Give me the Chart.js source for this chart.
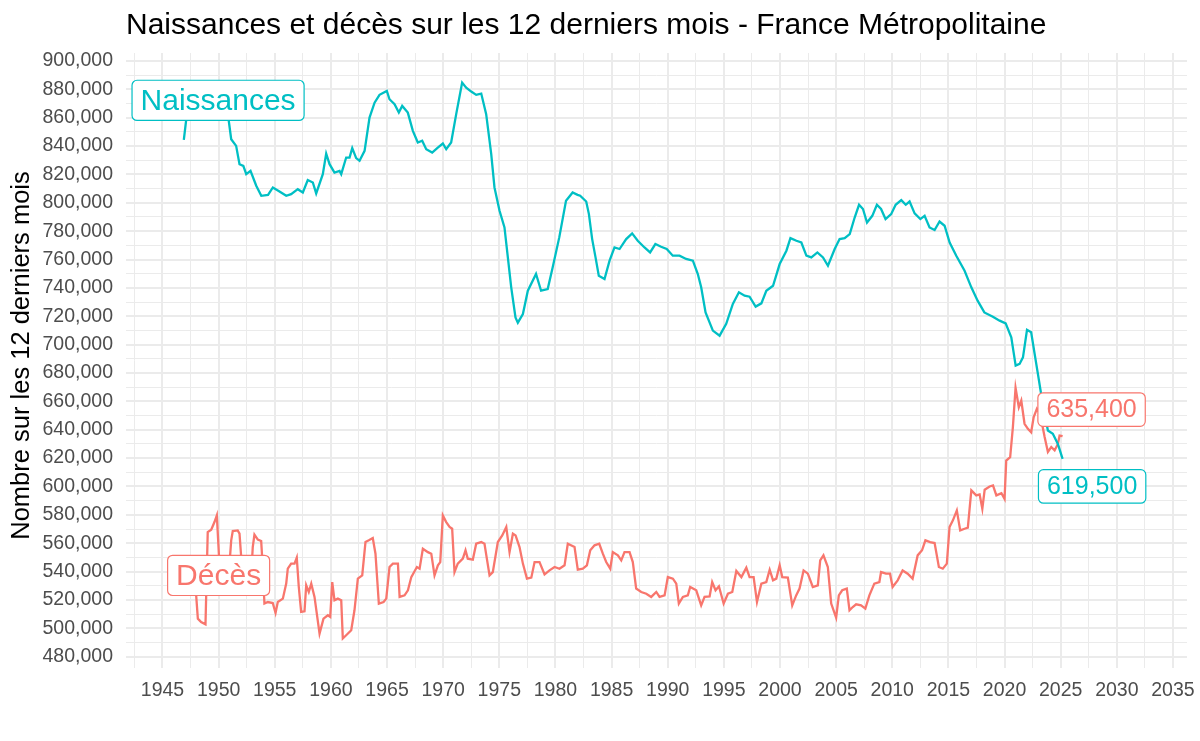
<!DOCTYPE html>
<html>
<head>
<meta charset="utf-8">
<script src="https://cdn.jsdelivr.net/npm/chart.js@4.4.1/dist/chart.umd.min.js"></script>
<style>
  html, body { margin: 0; padding: 0; background: #ffffff; }
  #wrap { width: 1200px; height: 741px; position: relative; }
</style>
</head>
<body>
<div id="wrap"><canvas id="c" width="1200" height="741"></canvas></div>
<script>
// ---------------- DATA ----------------
const chartTitle = "Naissances et décès sur les 12 derniers mois - France Métropolitaine";
const yAxisTitle = "Nombre sur les 12 derniers mois";
const seriesNames = ["Naissances", "Décès"];

const birthYears = [
  1946.9, 1947.1, 1947.5, 1948.0, 1948.5, 1949.0, 1949.5, 1950.0, 1950.5, 1950.9,
  1951.12, 1951.56, 1951.86, 1952.2, 1952.46, 1952.84, 1953.35, 1953.8, 1954.4, 1954.83,
  1955.42, 1956.02, 1956.46, 1957.05, 1957.5, 1957.94, 1958.39, 1958.69, 1959.28, 1959.58,
  1959.88, 1960.32, 1960.77, 1960.92, 1961.36, 1961.66, 1961.9, 1962.25, 1962.55, 1963.0,
  1963.44, 1963.89, 1964.33, 1964.98, 1965.22, 1965.67, 1966.05, 1966.35, 1966.85, 1967.3,
  1967.74, 1968.13, 1968.49, 1969.02, 1969.52, 1969.97, 1970.27, 1970.71, 1971.16, 1971.69,
  1972.05, 1972.5, 1972.94, 1973.39, 1973.83, 1974.28, 1974.57, 1975.02, 1975.46, 1975.76,
  1976.06, 1976.44, 1976.65, 1977.1, 1977.54, 1978.27, 1978.72, 1979.31, 1979.75, 1980.34,
  1980.94, 1981.53, 1981.97, 1982.2, 1982.74, 1982.98, 1983.27, 1983.57, 1983.86, 1984.37,
  1984.82, 1985.26, 1985.71, 1986.3, 1986.83, 1987.33, 1987.93, 1988.43, 1988.9, 1989.41,
  1989.91, 1990.45, 1991.05, 1991.64, 1992.24, 1992.68, 1992.98, 1993.37, 1994.02, 1994.62,
  1995.21, 1995.8, 1996.34, 1996.85, 1997.29, 1997.83, 1998.34, 1998.78, 1999.38, 1999.97,
  2000.57, 2000.93, 2001.46, 2001.9, 2002.35, 2002.79, 2003.33, 2003.83, 2004.27, 2004.87,
  2005.31, 2005.76, 2006.21, 2006.65, 2007.04, 2007.39, 2007.75, 2008.22, 2008.63, 2009.0,
  2009.4, 2009.9, 2010.3, 2010.8, 2011.2, 2011.54, 2011.99, 2012.5, 2012.88, 2013.32,
  2013.77, 2014.21, 2014.66, 2015.11, 2015.7, 2016.44, 2017.04, 2017.6, 2018.2, 2018.96,
  2019.56, 2020.1, 2020.6, 2020.99, 2021.34, 2021.64, 2022.0, 2022.37, 2022.68, 2022.97,
  2023.35, 2023.86, 2024.3, 2024.75, 2025.17
];
const birthValues = [
  844400, 857700, 863000, 867000, 869000, 868000, 866000, 864000, 861000, 858000,
  844800, 840100, 827200, 826000, 820200, 822500, 812000, 804900, 805600, 810800,
  808000, 804900, 806100, 809600, 807300, 816000, 814300, 806600, 820200, 834700,
  827200, 821300, 822500, 820200, 831900, 831900, 838500, 831500, 829600, 836600,
  860100, 870600, 876100, 878900, 873000, 869500, 863600, 868300, 863600, 850700,
  842500, 843700, 837800, 835400, 838900, 841800, 837800, 842500, 862500, 884700,
  881200, 878400, 876100, 877000, 862500, 834300, 810800, 794400, 782600, 761500,
  740400, 719200, 715500, 721600, 738000, 749800, 738000, 739200, 754400, 775600,
  801400, 807300, 805600, 805000, 800900, 792000, 774400, 761500, 748600, 746300,
  759200, 768500, 767400, 774400, 778400, 773200, 768500, 765000, 770900, 769000,
  767400, 762700, 762700, 760400, 759200, 749800, 740400, 722700, 709900, 706300,
  714600, 728700, 736900, 734500, 733800, 726800, 729100, 738000, 741500, 756800,
  766200, 775100, 773200, 772000, 762700, 761500, 765000, 761500, 755600, 767400,
  774400, 775100, 777900, 789600, 798600, 795600, 786100, 790800, 798600, 795600,
  788500, 792000, 798600, 801900, 798600, 800900, 792500, 788500, 790800, 782600,
  780800, 786800, 783800, 772000, 762700, 752100, 740400, 731000, 722700, 719700,
  716900, 715000, 705100, 685200, 686400, 691000, 710400, 708700, 693500, 679400,
  660600, 639400, 637100, 630000, 619500
];

const deathYears = [
  1946.9, 1947.5, 1947.9, 1948.0, 1948.15, 1948.44, 1948.83, 1949.03, 1949.34, 1949.63,
  1949.84, 1949.99, 1950.1, 1950.9, 1951.12, 1951.26, 1951.7, 1951.86, 1952.0, 1952.3,
  1952.9, 1953.04, 1953.19, 1953.49, 1953.79, 1953.93, 1954.08, 1954.38, 1954.82, 1955.07,
  1955.27, 1955.72, 1956.02, 1956.16, 1956.46, 1956.76, 1956.96, 1957.14, 1957.35, 1957.65,
  1957.8, 1958.03, 1958.25, 1958.54, 1958.99, 1959.34, 1959.73, 1959.94, 1960.12, 1960.32,
  1960.62, 1960.92, 1961.06, 1961.36, 1961.81, 1962.1, 1962.4, 1962.79, 1963.08, 1963.38,
  1963.73, 1963.97, 1964.27, 1964.69, 1964.93, 1965.22, 1965.52, 1965.97, 1966.12, 1966.56,
  1966.86, 1967.16, 1967.66, 1967.9, 1968.19, 1968.64, 1968.94, 1969.23, 1969.53, 1969.74,
  1969.97, 1970.27, 1970.57, 1970.8, 1971.01, 1971.3, 1971.75, 1971.99, 1972.19, 1972.64,
  1972.94, 1973.39, 1973.68, 1973.89, 1974.13, 1974.42, 1974.87, 1975.26, 1975.62, 1975.91,
  1976.21, 1976.45, 1976.8, 1977.1, 1977.46, 1977.85, 1978.14, 1978.58, 1979.03, 1979.47,
  1979.92, 1980.36, 1980.81, 1981.1, 1981.7, 1981.99, 1982.44, 1982.8, 1983.1, 1983.48,
  1983.9, 1984.22, 1984.52, 1984.88, 1985.11, 1985.56, 1985.86, 1986.15, 1986.6, 1986.89,
  1987.19, 1987.64, 1988.09, 1988.53, 1988.98, 1989.27, 1989.72, 1990.01, 1990.46, 1990.76,
  1990.99, 1991.35, 1991.79, 1992.0, 1992.54, 1992.98, 1993.28, 1993.73, 1993.96, 1994.26,
  1994.56, 1994.98, 1995.36, 1995.75, 1996.11, 1996.56, 1997.0, 1997.29, 1997.65, 1997.95,
  1998.34, 1998.78, 1999.08, 1999.38, 1999.67, 1999.97, 2000.2, 2000.7, 2001.09, 2001.44,
  2001.74, 2002.1, 2002.48, 2002.92, 2003.37, 2003.58, 2003.87, 2004.26, 2004.56, 2005.0,
  2005.24, 2005.54, 2005.95, 2006.19, 2006.48, 2006.78, 2007.22, 2007.6, 2007.96, 2008.4,
  2008.85, 2009.0, 2009.44, 2009.8, 2010.03, 2010.48, 2010.92, 2011.37, 2011.81, 2012.26,
  2012.65, 2012.95, 2013.37, 2013.77, 2014.15, 2014.5, 2014.86, 2015.1, 2015.4, 2015.75,
  2016.05, 2016.44, 2016.73, 2017.04, 2017.48, 2017.78, 2018.02, 2018.23, 2018.67, 2018.97,
  2019.27, 2019.72, 2020.0, 2020.15, 2020.5, 2020.74, 2020.98, 2021.27, 2021.49, 2021.78,
  2022.08, 2022.37, 2022.59, 2022.88, 2023.1, 2023.4, 2023.57, 2023.86, 2024.16, 2024.46,
  2024.75, 2024.9, 2025.17
];
const deathValues = [
  540000, 541000, 530000, 523200, 506800, 504400, 502800, 567800, 569500, 574900,
  579600, 557300, 540000, 538000, 562000, 568500, 569000, 566700, 551400, 536000,
  537000, 557300, 566000, 562500, 561500, 543200, 517400, 518500, 517800, 510800,
  518500, 520900, 531500, 542000, 545600, 545600, 549800, 529100, 511500, 512000,
  530300, 525600, 531500, 522100, 496300, 506800, 509200, 508000, 532600, 519700,
  520900, 519700, 492800, 495100, 498600, 512700, 535000, 537300, 560800, 562000,
  563600, 552600, 517400, 518500, 520900, 543200, 545600, 545600, 522100, 523200,
  526800, 536100, 543200, 542000, 556100, 553700, 552600, 537300, 544400, 546700,
  579600, 574900, 571400, 570200, 539600, 545600, 549100, 555000, 549100, 548400,
  559600, 560800, 559600, 549100, 537300, 539600, 560800, 565500, 571400, 553700,
  566700, 565500, 557300, 545600, 535000, 535700, 546700, 546700, 538000, 540800,
  543200, 542000, 544400, 559600, 557300, 541300, 542000, 544400, 555000, 558500,
  559600, 552600, 546700, 542000, 553700, 551400, 547900, 553700, 553700, 546700,
  528000, 525600, 524400, 522100, 525600, 522100, 523200, 536100, 535000, 531500,
  517400, 522100, 523200, 529100, 526800, 516200, 522100, 522500, 532600, 526800,
  529600, 517400, 524400, 525600, 540400, 536100, 542700, 536100, 536100, 518500,
  531500, 532600, 541300, 533800, 535000, 544400, 536100, 535700, 516200, 523200,
  528000, 540800, 538500, 529100, 530300, 547900, 551400, 543200, 517400, 507500,
  523200, 526800, 528000, 512700, 515000, 516900, 516200, 513900, 523200, 531500,
  532600, 539600, 538500, 538500, 529100, 533800, 540800, 538500, 535000, 551400,
  555000, 562000, 560800, 560100, 543200, 542000, 545600, 571400, 576100, 583100,
  569000, 570200, 570900, 597200, 593700, 594400, 584300, 597700, 600000, 600700,
  593700, 595300, 591300, 618300, 620600, 641700, 669500, 655800, 660600, 644200,
  640600, 638200, 648800, 654700, 652000, 641700, 634800, 624300, 627800, 625400,
  630000, 635900, 635400
];

// tick labels
const xTickLabels = [1945, 1950, 1955, 1960, 1965, 1970, 1975, 1980, 1985, 1990,
                     1995, 2000, 2005, 2010, 2015, 2020, 2025, 2030, 2035];
const yTickLabels = [480000, 500000, 520000, 540000, 560000, 580000, 600000, 620000,
                     640000, 660000, 680000, 700000, 720000, 740000, 760000, 780000,
                     800000, 820000, 840000, 860000, 880000, 900000];

// ---------------- STYLE ----------------
const FONT = "'Liberation Sans', Arial, Helvetica, sans-serif";
const TEAL = '#00BFC4';
const RED = '#F8766D';
const GRID = '#EBEBEB';
const X_MIN = 1941.75, X_MAX = 2036.25;
const Y_MIN = 472000, Y_MAX = 905600;

// major + minor tick positions (minor halfway between labelled ticks)
function withMinors(majors, step) {
  const out = [majors[0] - step / 2];
  majors.forEach(m => { out.push(m); out.push(m + step / 2); });
  return out;
}
const xGrid = withMinors(xTickLabels, 5).filter(v => v >= X_MIN && v <= X_MAX);
const yGrid = withMinors(yTickLabels, 20000).filter(v => v >= Y_MIN && v <= Y_MAX);
const xMajorSet = new Set(xTickLabels);
const yMajorSet = new Set(yTickLabels);

const fmt = v => Math.round(v).toLocaleString('en-US');

const lastBirth = birthValues[birthValues.length - 1];
const lastDeath = deathValues[deathValues.length - 1];

// annotation labels (centre position in data coordinates)
const boxLabels = [
  { text: seriesNames[0], x: 1949.95, y: 872200, color: TEAL, size: 30 },
  { text: seriesNames[1], x: 1950.0, y: 537300, color: RED, size: 30 },
  { text: fmt(lastDeath), x: 2027.75, y: 654200, color: RED, size: 25 },
  { text: fmt(lastBirth), x: 2027.8, y: 600000, color: TEAL, size: 25 }
];

const labelPlugin = {
  id: 'boxLabels',
  afterDatasetsDraw(chart) {
    const { ctx, scales: { x, y } } = chart;
    ctx.save();
    for (const l of boxLabels) {
      const cx = x.getPixelForValue(l.x);
      const cy = y.getPixelForValue(l.y);
      ctx.font = `${l.size}px ${FONT}`;
      const tw = ctx.measureText(l.text).width;
      const w = tw + 17;
      const h = l.size * 1.34;
      const x0 = cx - w / 2, y0 = cy - h / 2, r = 5;
      ctx.beginPath();
      ctx.moveTo(x0 + r, y0);
      ctx.lineTo(x0 + w - r, y0);
      ctx.arcTo(x0 + w, y0, x0 + w, y0 + r, r);
      ctx.lineTo(x0 + w, y0 + h - r);
      ctx.arcTo(x0 + w, y0 + h, x0 + w - r, y0 + h, r);
      ctx.lineTo(x0 + r, y0 + h);
      ctx.arcTo(x0, y0 + h, x0, y0 + h - r, r);
      ctx.lineTo(x0, y0 + r);
      ctx.arcTo(x0, y0, x0 + r, y0, r);
      ctx.closePath();
      ctx.fillStyle = '#ffffff';
      ctx.fill();
      ctx.lineWidth = 1.2;
      ctx.strokeStyle = l.color;
      ctx.stroke();
      ctx.fillStyle = l.color;
      ctx.textAlign = 'center';
      ctx.textBaseline = 'middle';
      ctx.fillText(l.text, cx, cy + 1);
    }
    ctx.restore();
  }
};

const titlesPlugin = {
  id: 'titles',
  afterDraw(chart) {
    const { ctx, chartArea } = chart;
    ctx.save();
    ctx.fillStyle = '#000000';
    ctx.font = `30px ${FONT}`;
    ctx.textAlign = 'left';
    ctx.textBaseline = 'alphabetic';
    ctx.fillText(chartTitle, chartArea.left, 34);
    ctx.translate(22, (chartArea.top + chartArea.bottom) / 2 - 5);
    ctx.rotate(-Math.PI / 2);
    ctx.font = `25.5px ${FONT}`;
    ctx.textAlign = 'center';
    ctx.textBaseline = 'middle';
    ctx.fillText(yAxisTitle, 0, 0);
    ctx.restore();
  }
};

const ctx = document.getElementById('c').getContext('2d');
new Chart(ctx, {
  type: 'line',
  data: {
    datasets: [
      {
        label: seriesNames[0],
        data: birthYears.map((yr, i) => ({ x: yr, y: birthValues[i] })),
        borderColor: TEAL, borderWidth: 2.3, pointRadius: 0, tension: 0, fill: false
      },
      {
        label: seriesNames[1],
        data: deathYears.map((yr, i) => ({ x: yr, y: deathValues[i] })),
        borderColor: RED, borderWidth: 2.3, pointRadius: 0, tension: 0, fill: false
      }
    ]
  },
  options: {
    responsive: false,
    animation: false,
    devicePixelRatio: 1,
    layout: { padding: { top: 53, right: 13, bottom: 0, left: 0 } },
    plugins: {
      legend: { display: false },
      title: { display: false },
      tooltip: { enabled: false }
    },
    scales: {
      x: {
        type: 'linear',
        min: X_MIN, max: X_MAX,
        afterBuildTicks: s => { s.ticks = xGrid.map(v => ({ value: v })); },
        afterFit: s => { s.height = 73; s.paddingLeft = 0; s.paddingRight = 0; },
        grid: {
          color: GRID,
          lineWidth: c => (c.tick && xMajorSet.has(c.tick.value)) ? 2 : 1,
          drawTicks: false
        },
        border: { display: false },
        ticks: {
          autoSkip: false, maxRotation: 0, minRotation: 0,
          padding: 11,
          color: '#4D4D4D',
          font: { family: FONT, size: 19.5 },
          callback: v => xMajorSet.has(v) ? String(v) : ''
        }
      },
      y: {
        type: 'linear',
        min: Y_MIN, max: Y_MAX,
        afterBuildTicks: s => { s.ticks = yGrid.map(v => ({ value: v })); },
        afterFit: s => { s.width = 126; },
        grid: {
          color: GRID,
          lineWidth: c => (c.tick && yMajorSet.has(c.tick.value)) ? 2 : 1,
          drawTicks: false
        },
        border: { display: false },
        ticks: {
          autoSkip: false,
          padding: 13,
          color: '#4D4D4D',
          font: { family: FONT, size: 19.5 },
          callback: v => yMajorSet.has(v) ? fmt(v) : ''
        }
      }
    }
  },
  plugins: [labelPlugin, titlesPlugin]
});
</script>
</body>
</html>
